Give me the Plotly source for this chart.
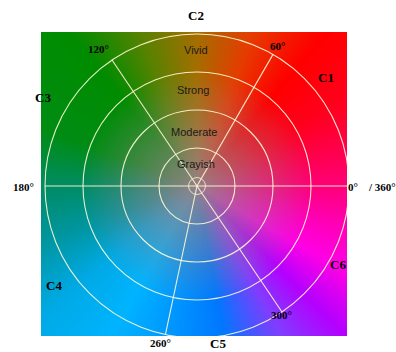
import numpy as np
import plotly.graph_objects as go

W, H = 396, 352

# ---- data ----
ring_levels = [1, 2, 3, 4]
ring_names = ["Grayish", "Moderate", "Strong", "Vivid"]
spoke_angles = [0, 60, 124, 180, 258, 304]
angle_labels = ["0°", "60°", "120°", "180°", "260°", "300°"]
class_names = ["C1", "C2", "C3", "C4", "C5", "C6"]

# hue control points (angle deg -> rgb at full saturation)
hue_ang = [0, 30, 50, 70, 90, 110, 130, 160, 180, 200, 220, 240, 260, 280, 300, 315, 330, 345, 360]
hue_r = [255, 255, 255, 230, 165, 90, 0, 0, 0, 0, 0, 0, 0, 0, 130, 180, 255, 255, 255]
hue_g = [0, 0, 0, 60, 110, 130, 140, 140, 140, 150, 170, 180, 150, 120, 60, 0, 0, 0, 0]
hue_b = [120, 30, 0, 0, 0, 0, 0, 20, 100, 160, 230, 255, 255, 255, 255, 255, 230, 180, 120]
gray_center = [150, 130, 135]

# ---- pixel geometry ----
cx, cy, R = 197, 186, 152
x_lo, x_hi, y_lo, y_hi = 41, 347, 32, 337
step = 2

xs = np.arange(x_lo + step / 2, x_hi, step)
ys = np.arange(y_lo + step / 2, y_hi, step)
XX, YY = np.meshgrid(xs, ys)
dx = XX - cx
dy = cy - YY
ang = np.degrees(np.arctan2(dy, dx)) % 360
rr = np.hypot(dx, dy)
t = np.clip(rr / 115.0, 0, 1) ** 0.9
img = np.zeros(XX.shape + (3,))
for k, ch in enumerate([hue_r, hue_g, hue_b]):
    full = np.interp(ang, hue_ang, ch)
    img[..., k] = gray_center[k] * (1 - t) + full * t
img = np.clip(img, 0, 255).astype(np.uint8)

fig = go.Figure()
fig.add_trace(go.Image(z=img, x0=xs[0], dx=step, y0=ys[0], dy=step,
                       xaxis="x", yaxis="y", hoverinfo="skip"))

grid_col = "rgba(255,250,215,0.9)"
theta_small = np.linspace(0, 360, 73)
fig.add_trace(go.Scatterpolar(r=[0.22] * len(theta_small), theta=theta_small,
                              mode="lines", line=dict(color=grid_col, width=1),
                              hoverinfo="skip", showlegend=False))

fig.update_layout(
    width=W, height=H,
    margin=dict(l=0, r=0, t=0, b=0),
    paper_bgcolor="white", plot_bgcolor="white",
    showlegend=False,
    xaxis=dict(domain=[x_lo / W, x_hi / W], range=[x_lo, x_hi], visible=False),
    yaxis=dict(domain=[1 - y_hi / H, 1 - y_lo / H], range=[y_hi, y_lo], visible=False),
    polar=dict(
        domain=dict(x=[(cx - R) / W, (cx + R) / W], y=[1 - (cy + R) / H, 1 - (cy - R) / H]),
        bgcolor="rgba(0,0,0,0)",
        radialaxis=dict(range=[0, 4], tickvals=ring_levels[:-1], showticklabels=False,
                        ticks="", showline=False, gridcolor=grid_col, gridwidth=1.1),
        angularaxis=dict(tickvals=spoke_angles, showticklabels=False, ticks="",
                         direction="counterclockwise", rotation=0,
                         gridcolor=grid_col, gridwidth=1.1,
                         showline=True, linecolor=grid_col, linewidth=1.1),
    ),
)

serif = "Liberation Serif"
ann = []
# class labels
c_pos = [(326, 77), (196, 16), (43, 98), (54, 285), (218, 343), (338, 264)]
for name, (px, py) in zip(class_names, c_pos):
    ann.append(dict(text=f"<b>{name}</b>", x=px / W, y=1 - py / H, font=dict(family=serif, size=13, color="black")))
# angle labels
a_pos = [(353, 187), (277, 46), (98, 49), (23, 187), (160, 343), (281, 315)]
for lab, (px, py) in zip(angle_labels, a_pos):
    ann.append(dict(text=f"<b>{lab}</b>", x=px / W, y=1 - py / H, font=dict(family=serif, size=11, color="black")))
ann.append(dict(text="<b>/ 360°</b>", x=382 / W, y=1 - 187 / H, font=dict(family=serif, size=11, color="black")))
# ring labels
r_pos = [(196, 164), (194, 132), (193, 90), (196, 50)]
for lab, (px, py) in zip(ring_names, r_pos):
    ann.append(dict(text=lab, x=px / W, y=1 - py / H, font=dict(family="Liberation Sans", size=11, color="#1a1a1a")))
for a in ann:
    a.update(xref="paper", yref="paper", showarrow=False, xanchor="center", yanchor="middle")
fig.update_layout(annotations=ann)

fig.write_html("out.html", config={"displayModeBar": False, "staticPlot": True},
               post_script="document.body.style.margin='0';document.body.style.overflow='hidden';")
